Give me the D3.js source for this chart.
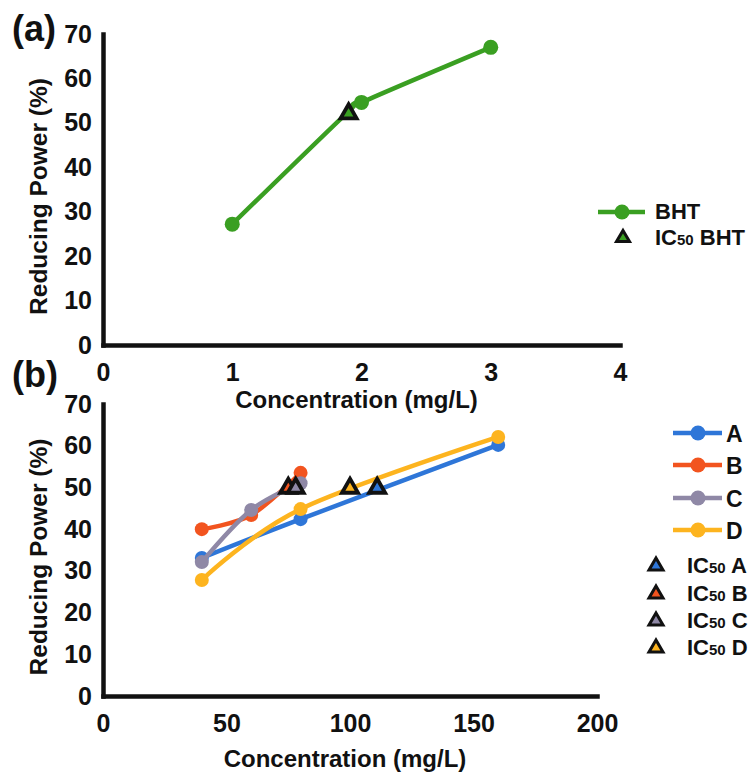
<!DOCTYPE html>
<html>
<head>
<meta charset="utf-8">
<script src="https://cdn.jsdelivr.net/npm/d3@7"></script>
<style>
  html, body { margin: 0; padding: 0; background: #fff; }
  svg text { font-family: "Liberation Sans", Arial, sans-serif; font-weight: bold; fill: #111; }
</style>
</head>
<body>
<svg id="chart" width="753" height="774"></svg>
<script>
// ---------- Data ----------
const bhtX = [1, 2, 3];
const bhtY = [27.2, 54.6, 67.0];
const bhtIC50 = [1.9, 52.6];

const seriesNames = ["A", "B", "C", "D"];
const seriesA = [[40, 33.1], [80, 42.4], [160, 60.2]];
const seriesB = [[40, 40.0], [60, 43.4], [80, 53.5]];
const seriesC = [[40, 32.1], [60, 44.6], [80, 51.0]];
const seriesD = [[40, 27.8], [80, 44.8], [160, 62.1]];
const ic50X = [111, 75, 78, 100];
const ic50Y = [50.4, 50.4, 50.4, 50.4];

const xTicksA = [0, 1, 2, 3, 4];
const xTicksB = [0, 50, 100, 150, 200];
const yTicks = [0, 10, 20, 30, 40, 50, 60, 70];

const colors = { BHT: "#3a9f22", A: "#2e76d8", B: "#f2541f", C: "#8f88a6", D: "#fdb41f" };

// ---------- Setup ----------
const svg = d3.select("#chart");
const FONT_TICK = 25, FONT_TITLE = 24, FONT_LEG = 22;

function triPath(w, h) {
  return `M0,${-h / 2}L${w / 2},${h / 2}L${-w / 2},${h / 2}Z`;
}

function drawAxes(x, y, xTicks, titleBaseline) {
  const gx = svg.append("g").attr("transform", `translate(0,${y(0)})`)
    .call(d3.axisBottom(x).tickValues(xTicks).tickSize(0).tickSizeOuter(0).tickPadding(18).tickFormat(d3.format("d")));
  const gy = svg.append("g").attr("transform", `translate(${x(0)},0)`)
    .call(d3.axisLeft(y).tickValues(yTicks).tickSize(0).tickSizeOuter(0).tickPadding(11).tickFormat(d3.format("d")));
  [gx, gy].forEach(g => {
    g.select(".domain").attr("stroke", "#111").attr("stroke-width", 4.5).attr("stroke-linecap", "square");
    g.selectAll("text").style("font-size", FONT_TICK + "px").attr("fill", "#111");
  });
  svg.append("text")
    .attr("x", (x.range()[0] + x.range()[1]) / 2 - 5)
    .attr("y", titleBaseline)
    .attr("text-anchor", "middle")
    .style("font-size", FONT_TITLE + "px")
    .text("Concentration (mg/L)");
  const yc = (y.range()[0] + y.range()[1]) / 2 + 7;
  svg.append("text")
    .attr("transform", `translate(47,${yc}) rotate(-90)`)
    .attr("text-anchor", "middle")
    .style("font-size", "24.5px")
    .text("Reducing Power (%)");
}

const curve = d3.curveCardinal.tension(0);

// ---------- Panel (a) ----------
const xA = d3.scaleLinear().domain([0, 4]).range([103, 620]);
const yA = d3.scaleLinear().domain([0, 70]).range([345, 34]);
drawAxes(xA, yA, xTicksA, 408);

svg.append("text").attr("x", 12).attr("y", 41).style("font-size", "36px").text("(a)");

const bhtData = bhtX.map((v, i) => [v, bhtY[i]]);
// the reference's smoothed line also passes through the IC50 marker
const bhtLineData = bhtData.concat([bhtIC50]).sort((a, b) => a[0] - b[0]);
const lineA = d3.line().x(d => xA(d[0])).y(d => yA(d[1])).curve(curve);
svg.append("path").datum(bhtLineData).attr("d", lineA)
  .attr("fill", "none").attr("stroke", colors.BHT).attr("stroke-width", 4.5);
svg.selectAll(".bhtpt").data(bhtData).join("circle")
  .attr("cx", d => xA(d[0])).attr("cy", d => yA(d[1])).attr("r", 7.5).attr("fill", colors.BHT);
svg.append("path").attr("d", triPath(16, 14))
  .attr("transform", `translate(${xA(bhtIC50[0])},${yA(bhtIC50[1])})`)
  .attr("fill", colors.BHT).attr("stroke", "#111").attr("stroke-width", 3.8);

// Legend (a)
const legA = svg.append("g");
legA.append("line").attr("x1", 598).attr("x2", 645).attr("y1", 212).attr("y2", 212)
  .attr("stroke", colors.BHT).attr("stroke-width", 4.5);
legA.append("circle").attr("cx", 622).attr("cy", 212).attr("r", 7.5).attr("fill", colors.BHT);
legA.append("text").attr("x", 655).attr("y", 219).style("font-size", FONT_LEG + "px").text("BHT");
legA.append("path").attr("d", triPath(13, 11)).attr("transform", "translate(623,236)")
  .attr("fill", colors.BHT).attr("stroke", "#111").attr("stroke-width", 3);
const icA = legA.append("text").attr("x", 655).attr("y", 244.5).style("font-size", FONT_LEG + "px");
icA.append("tspan").text("IC");
icA.append("tspan").style("font-size", "15px").text("50");
icA.append("tspan").text(" BHT");

// ---------- Panel (b) ----------
const xB = d3.scaleLinear().domain([0, 200]).range([103, 597]);
const yB = d3.scaleLinear().domain([0, 70]).range([696, 404]);
drawAxes(xB, yB, xTicksB, 767);

svg.append("text").attr("x", 12).attr("y", 387).style("font-size", "36px").text("(b)");

const allSeries = [seriesA, seriesB, seriesC, seriesD];
const lineB = d3.line().x(d => xB(d[0])).y(d => yB(d[1])).curve(curve);
allSeries.forEach((s, i) => {
  const c = colors[seriesNames[i]];
  const g = svg.append("g");
  g.append("path").datum(s).attr("d", lineB)
    .attr("fill", "none").attr("stroke", c).attr("stroke-width", 4.5);
  g.selectAll("circle").data(s).join("circle")
    .attr("cx", d => xB(d[0])).attr("cy", d => yB(d[1])).attr("r", 7).attr("fill", c);
});
seriesNames.forEach((n, i) => {
  svg.append("path").attr("d", triPath(16, 14))
    .attr("transform", `translate(${xB(ic50X[i])},${yB(ic50Y[i])})`)
    .attr("fill", colors[n]).attr("stroke", "#111").attr("stroke-width", 3.8);
});

// Legend (b)
const legLineY = [433, 465, 498, 530];
const legTriY = [564, 592, 619, 646];
const legB = svg.append("g");
seriesNames.forEach((n, i) => {
  const c = colors[n];
  legB.append("line").attr("x1", 673).attr("x2", 722).attr("y1", legLineY[i]).attr("y2", legLineY[i])
    .attr("stroke", c).attr("stroke-width", 4.5);
  legB.append("circle").attr("cx", 698).attr("cy", legLineY[i]).attr("r", 7.5).attr("fill", c);
  legB.append("text").attr("x", 726).attr("y", legLineY[i] + 8.5).style("font-size", "23px").text(n);
  legB.append("path").attr("d", triPath(14, 12)).attr("transform", `translate(656,${legTriY[i]})`)
    .attr("fill", c).attr("stroke", "#111").attr("stroke-width", 3);
  const t = legB.append("text").attr("x", 687).attr("y", legTriY[i] + 8.5).style("font-size", "22px");
  t.append("tspan").text("IC");
  t.append("tspan").style("font-size", "15px").text("50");
  t.append("tspan").text(" " + n);
});
</script>
</body>
</html>
